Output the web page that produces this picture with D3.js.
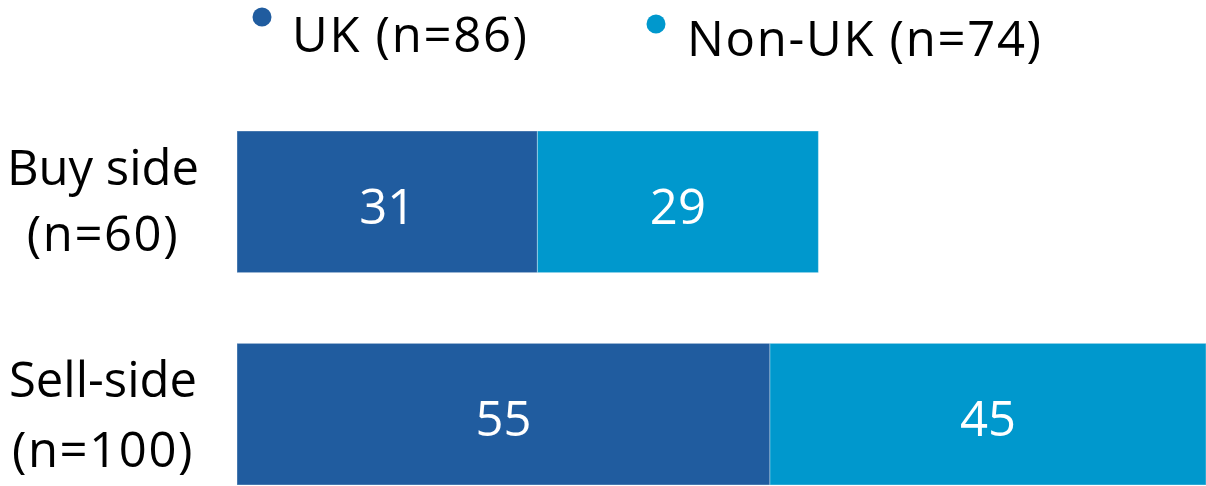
<!DOCTYPE html>
<html>
<head>
<meta charset="utf-8">
<script src="https://cdn.jsdelivr.net/npm/d3@7"></script>
<style>
html,body{margin:0;padding:0;background:#fff;}
svg{display:block;font-family:"Open Sans","Noto Sans",sans-serif;}
</style>
</head>
<body>
<svg id="chart" width="1206" height="486"></svg>
<script>
const categories = ["Buy side", "Sell-side"];
const categorySubLabels = ["(n=60)", "(n=100)"];
const seriesNames = ["UK (n=86)", "Non-UK (n=74)"];
const ukValues = [31, 55];
const nonUkValues = [29, 45];
const colors = ["#205c9f", "#0098cd"];

const svg = d3.select("#chart");
const x = d3.scaleLinear().domain([0, 100]).range([237, 1206]);
const y = d3.scaleBand().domain(categories).range([131, 485]).paddingInner(0.333).paddingOuter(0);

const rows = categories.map((c, i) => ({cat: c, sub: categorySubLabels[i], UK: ukValues[i], NonUK: nonUkValues[i]}));
const stack = d3.stack().keys(["UK", "NonUK"])(rows);

const fs = 49;
stack.forEach((layer, li) => {
  const g = svg.append("g");
  g.selectAll("rect").data(layer).join("rect")
    .attr("x", d => x(d[0]))
    .attr("y", d => y(d.data.cat))
    .attr("width", d => x(d[1]) - x(d[0]))
    .attr("height", y.bandwidth())
    .attr("fill", colors[li])
    .attr("stroke", "rgba(255,255,255,0.35)")
    .attr("stroke-width", 1);
  g.selectAll("text").data(layer).join("text")
    .attr("x", d => (x(d[0]) + x(d[1])) / 2)
    .attr("y", d => y(d.data.cat) + y.bandwidth() / 2 + 22)
    .attr("text-anchor", "middle")
    .attr("fill", "#fff")
    .attr("font-size", fs)
    .text(d => d[1] - d[0]);
});

// category labels
const lab = svg.append("g");
rows.forEach((r, i) => {
  const y0 = y(r.cat);
  lab.append("text").attr("text-anchor", "middle").attr("font-size", fs).attr("fill", "#000")
    .attr("x", 103).attr("y", y0 + 54).text(r.cat);
  lab.append("text").attr("text-anchor", "middle").attr("font-size", fs).attr("fill", "#000")
    .attr("letter-spacing", 1.6)
    .attr("x", 103).attr("y", y0 + 120 + i * 4).text(r.sub);
});

// legend
const legendPos = [{cx: 262, cy: 17, tx: 292, ty: 52}, {cx: 656, cy: 24, tx: 687, ty: 56}];
const lg = svg.append("g");
seriesNames.forEach((s, i) => {
  const p = legendPos[i];
  lg.append("circle").attr("cx", p.cx).attr("cy", p.cy).attr("r", 9.5).attr("fill", colors[i]);
  lg.append("text").attr("x", p.tx).attr("y", p.ty).attr("font-size", fs).attr("fill", "#000")
    .attr("letter-spacing", 1.7).text(s);
});
</script>
</body>
</html>
